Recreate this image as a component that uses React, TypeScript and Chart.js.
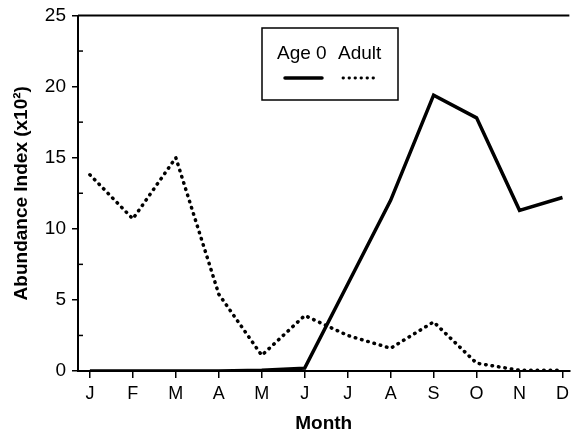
import React, { useEffect, useRef } from "react";
import { Chart, registerables } from "chart.js";

Chart.register(...registerables);

const months = ["J", "F", "M", "A", "M", "J", "J", "A", "S", "O", "N", "D"];
const ageZero = [0, 0, 0, 0, 0.05, 0.2, 6.1, 12.0, 19.4, 17.8, 11.3, 12.2];
const adult = [13.8, 10.7, 15.0, 5.4, 1.1, 3.9, 2.5, 1.6, 3.45, 0.55, 0.05, 0.05];
const yTicks = [0, 5, 10, 15, 20, 25];
const legendLabels = ["Age 0", "Adult"];

const FONT = "'Liberation Sans', Arial, Helvetica, sans-serif";

const framePlugin = {
  id: "frame",
  afterDraw(chart: any) {
    const { ctx, chartArea, scales } = chart;
    const y = scales.y;
    ctx.save();
    ctx.strokeStyle = "#000";
    ctx.lineWidth = 2;
    // top border
    ctx.beginPath();
    ctx.moveTo(chartArea.left, chartArea.top);
    ctx.lineTo(chartArea.right, chartArea.top);
    ctx.stroke();
    // minor inward ticks on y axis
    ctx.lineWidth = 1.5;
    for (let v = 2.5; v < 25; v += 5) {
      const py = y.getPixelForValue(v);
      ctx.beginPath();
      ctx.moveTo(chartArea.left, py);
      ctx.lineTo(chartArea.left + 5, py);
      ctx.stroke();
    }
    // legend box
    const bx = 262, by = 28, bw = 136, bh = 72;
    ctx.fillStyle = "#fff";
    ctx.fillRect(bx, by, bw, bh);
    ctx.lineWidth = 1.5;
    ctx.strokeRect(bx, by, bw, bh);
    ctx.fillStyle = "#000";
    ctx.font = `19px ${FONT}`;
    ctx.textBaseline = "middle";
    ctx.textAlign = "left";
    ctx.fillText(legendLabels[0], bx + 15, by + 26);
    ctx.fillText(legendLabels[1], bx + 76, by + 26);
    ctx.lineCap = "round";
    ctx.lineWidth = 3.5;
    ctx.beginPath();
    ctx.moveTo(bx + 23, by + 50);
    ctx.lineTo(bx + 60, by + 50);
    ctx.stroke();
    ctx.lineWidth = 2.8;
    ctx.setLineDash([0.5, 5.5]);
    ctx.beginPath();
    ctx.moveTo(bx + 81, by + 50);
    ctx.lineTo(bx + 117, by + 50);
    ctx.stroke();
    ctx.restore();
  },
};

export default function App() {
  const ref = useRef<HTMLCanvasElement | null>(null);
  useEffect(() => {
    if (!ref.current) return;
    const chart = new Chart(ref.current, {
      type: "line",
      data: {
        datasets: [
          {
            label: legendLabels[0],
            data: ageZero.map((v, i) => ({ x: i, y: v })),
            borderColor: "#000",
            borderWidth: 3.5,
            pointRadius: 0,
            tension: 0,
            borderJoinStyle: "miter",
          },
          {
            label: legendLabels[1],
            data: adult.map((v, i) => ({ x: i, y: v })),
            borderColor: "#000",
            borderWidth: 3.5,
            borderDash: [0.5, 6],
            borderCapStyle: "round",
            pointRadius: 0,
            tension: 0,
          },
        ],
      },
      options: {
        animation: false,
        responsive: false,
        maintainAspectRatio: false,
        layout: { padding: { top: 15, right: 1, left: 0, bottom: 0 } },
        plugins: { legend: { display: false }, tooltip: { enabled: false } },
        scales: {
          x: {
            type: "linear",
            min: -0.277,
            max: 11.16,
            afterBuildTicks: (s: any) => {
              s.ticks = months.map((_, i) => ({ value: i }));
            },
            afterFit: (s: any) => {
              s.height = 64;
            },
            ticks: {
              autoSkip: false,
              maxRotation: 0,
              callback: (v: any) => months[v] ?? "",
              color: "#000",
              font: { family: FONT, size: 18 },
              padding: 5,
            },
            grid: {
              drawOnChartArea: false,
              tickLength: 7,
              color: "#000",
              lineWidth: 1.5,
            },
            border: { color: "#000", width: 2 },
            title: {
              display: true,
              text: "Month",
              color: "#000",
              font: { family: FONT, size: 19, weight: "bold" },
              padding: { top: 0, bottom: 0 },
            },
          },
          y: {
            min: 0,
            max: 25,
            afterBuildTicks: (s: any) => {
              s.ticks = yTicks.map((v) => ({ value: v }));
            },
            afterFit: (s: any) => {
              s.width = 78;
            },
            ticks: {
              color: "#000",
              font: { family: FONT, size: 19, lineHeight: 1 },
              padding: 6,
            },
            grid: {
              drawOnChartArea: false,
              tickLength: 6,
              color: "#000",
              lineWidth: 1.5,
            },
            border: { color: "#000", width: 2 },
            title: {
              display: true,
              text: "Abundance Index (x10²)",
              color: "#000",
              font: { family: FONT, size: 19, weight: "bold" },
              padding: { top: 10, bottom: 2 },
            },
          },
        },
      },
      plugins: [framePlugin],
    } as any);
    return () => chart.destroy();
  }, []);
  return (
    <div style={{ position: "fixed", left: 0, top: 0, width: 574, height: 435, background: "#fff" }}>
      <canvas ref={ref} width={574} height={435} style={{ width: 574, height: 435 }} />
    </div>
  );
}
